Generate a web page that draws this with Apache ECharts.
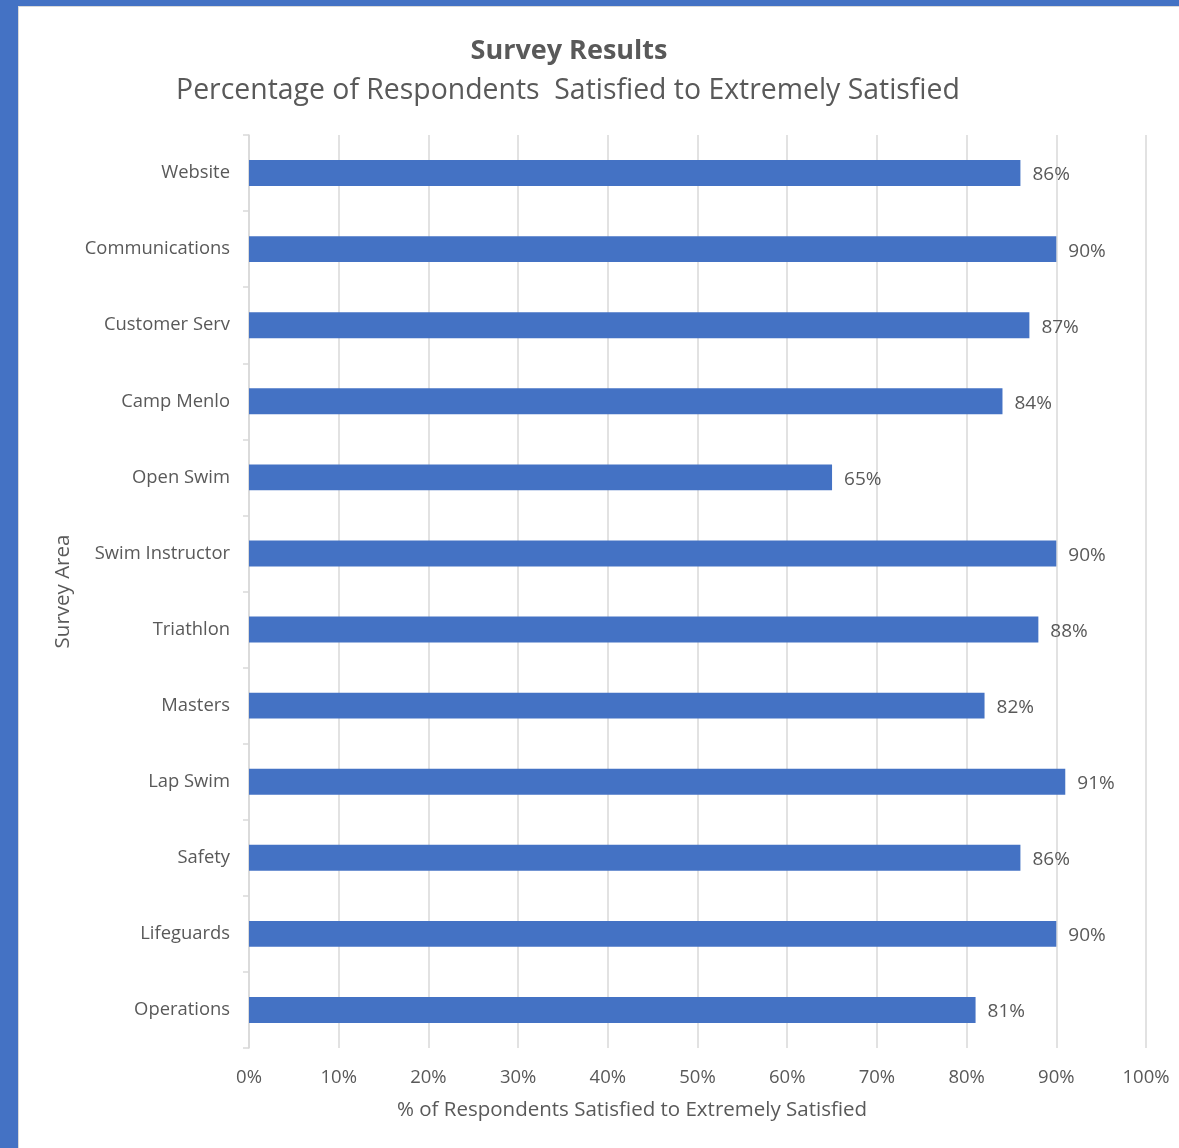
<!DOCTYPE html>
<html>
<head>
<meta charset="utf-8">
<script src="https://cdn.jsdelivr.net/npm/echarts@6/dist/echarts.min.js"></script>
<style>
html,body{margin:0;padding:0;width:1179px;height:1148px;overflow:hidden;background:#4472C4;}
#chart{position:absolute;left:18px;top:6px;width:1160px;height:1141px;background:#fff;border-left:1px solid #d9d9d9;border-top:1px solid #d9d9d9;}
</style>
</head>
<body>
<div id="chart"></div>
<script>
const categories = ['Website','Communications','Customer Serv','Camp Menlo','Open Swim','Swim Instructor','Triathlon','Masters','Lap Swim','Safety','Lifeguards','Operations'];
const values = [86,90,87,84,65,90,88,82,91,86,90,81];
const titleText = 'Survey Results';
const subtitleText = 'Percentage of Respondents  Satisfied to Extremely Satisfied';
const xAxisName = '% of Respondents Satisfied to Extremely Satisfied';
const yAxisName = 'Survey Area';

const FONT = '"Open Sans", sans-serif';
const TXT = '#595959';
const chart = echarts.init(document.getElementById('chart'));
chart.setOption({
  animation: false,
  textStyle: {fontFamily: FONT, color: TXT},
  grid: {left: 230, right: 33, top: 128, bottom: 100, containLabel: false},
  graphic: [
    {type:'text', x:550, y:44, style:{text:titleText, textAlign:'center', textVerticalAlign:'middle', font:'bold 27px ' + FONT, fill:TXT}},
    {type:'text', x:549, y:84, style:{text:subtitleText, textAlign:'center', textVerticalAlign:'middle', font:'28.4px ' + FONT, fill:TXT}},
    {type:'text', x:613, y:1103, style:{text:xAxisName, textAlign:'center', textVerticalAlign:'middle', font:'20.5px ' + FONT, fill:TXT}}
  ],
  xAxis: {
    type: 'value', min: 0, max: 100, interval: 10,
    axisLine: {show: false}, axisTick: {show: false},
    axisLabel: {formatter: '{value}%', color: TXT, fontSize: 18.5, margin: 20, fontFamily: FONT},
    splitLine: {show: true, lineStyle: {color: '#d9d9d9', width: 1.5}}
  },
  yAxis: {
    type: 'category', data: categories, inverse: true,
    name: yAxisName, nameLocation: 'middle', nameGap: 170,
    nameTextStyle: {fontSize: 20.5, color: TXT, fontFamily: FONT},
    axisLine: {show: true, lineStyle: {color: '#d9d9d9', width: 1.5}},
    axisTick: {show: true, length: 6, lineStyle: {color: '#d9d9d9', width: 1.5}},
    axisLabel: {color: TXT, fontSize: 18.4, margin: 19, fontFamily: FONT, padding: [4, 0, 0, 0]},
    splitLine: {show: false}
  },
  series: [{
    type: 'bar', data: values, barCategoryGap: '66%',
    itemStyle: {color: '#4472C4'},
    label: {show: true, position: 'right', distance: 12, offset: [0, 2], formatter: '{c}%', color: TXT, fontSize: 19, fontFamily: FONT}
  }]
});
</script>
</body>
</html>
